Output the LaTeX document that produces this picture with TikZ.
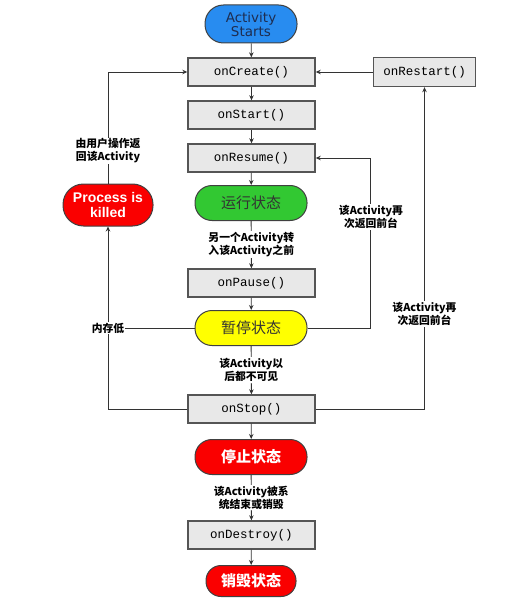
\documentclass[tikz,border=0pt]{standalone}
\usepackage{fontspec}
\newfontfamily\cjk{Noto Sans CJK SC}
\newfontfamily\monofam{Liberation Mono}
\newfontfamily\sansfam{DejaVu Sans}
\newfontfamily\boldsans{Liberation Sans}
\usetikzlibrary{arrows.meta}

\definecolor{startblue}{RGB}{40,140,240}
\definecolor{rungreen}{RGB}{50,200,50}
\definecolor{pauseyellow}{RGB}{255,255,0}
\definecolor{stopred}{RGB}{250,0,0}
\definecolor{boxgray}{RGB}{232,232,232}
\definecolor{boxedge}{RGB}{85,85,85}

\begin{document}
\begin{tikzpicture}[x=1pt,y=-1pt,
  method/.style={draw=boxedge,line width=1.4pt,fill=boxgray,minimum width=127pt,minimum height=28pt,inner sep=0pt,font=\monofam\fontsize{12.5}{14}\selectfont},
  state/.style={draw=black!75,line width=1pt,rounded corners=17pt,minimum width=112pt,minimum height=35pt,inner sep=0pt,text=black!80,font=\cjk\fontsize{15}{17}\selectfont},
  hot/.style={fill=stopred,text=white,font=\cjk\bfseries\fontsize{15}{17}\selectfont},
  note/.style={fill=white,inner sep=1pt,align=center,font=\cjk\bfseries\fontsize{10.8}{13}\selectfont},
  flow/.style={draw=black!80,line width=0.8pt,-{Stealth[length=5pt,width=4.5pt]}},
  plain/.style={draw=black!80,line width=0.8pt}]
\useasboundingbox (0,0) rectangle (528,604);

% Main column
\node[state,fill=startblue,minimum width=92pt,minimum height=38pt,rounded corners=18.5pt,
  align=center,text={rgb,255:red,30;green,45;blue,80},font=\sansfam\fontsize{13.5}{14}\selectfont] (begin) at (251,24) {Activity\\Starts};
\node[method] (create) at (251.5,72) {onCreate()};
\node[method] (startm) at (251.5,115) {onStart()};
\node[method] (resume) at (251.5,158) {onResume()};
\node[state,fill=rungreen] (running) at (251,203) {运行状态};
\node[method] (pausem) at (251.5,283) {onPause()};
\node[state,fill=pauseyellow] (paused) at (251,328) {暂停状态};
\node[method] (stopm) at (251.5,409) {onStop()};
\node[state,hot] (stopped) at (251,457) {停止状态};
\node[method] (destroym) at (251.5,535) {onDestroy()};
\node[state,hot,minimum width=90pt,minimum height=31pt,rounded corners=15pt] (destroyed) at (251,581) {销毁状态};

% Side nodes
\node[method,minimum width=102pt,minimum height=29pt] (restart) at (424.5,72) {onRestart()};
\node[state,hot,minimum width=90pt,minimum height=42pt,rounded corners=20.5pt,align=center,
  font=\boldsans\bfseries\fontsize{14}{15}\selectfont] (killed) at (108,205) {Process is\\killed};

% Down the middle
\draw[flow] (begin) -- (create);
\draw[flow] (create) -- (startm);
\draw[flow] (startm) -- (resume);
\draw[flow] (resume) -- (running);
\draw[flow] (running) -- node[note] {另一个Activity转\\入该Activity之前} (pausem);
\draw[flow] (pausem) -- (paused);
\draw[flow] (paused) -- node[note] {该Activity以\\后都不可见} (stopm);
\draw[flow] (stopm) -- (stopped);
\draw[flow] (stopped) -- node[note] {该Activity被系\\统结束或销毁} (destroym);
\draw[flow] (destroym) -- (destroyed);

% Left loop
\coordinate (lowmem) at (108,328);
\draw[flow] (stopm.west) -| (killed.south);
\draw[plain] (paused.west) -- (lowmem);
\node[note] at (lowmem) {内存低};
\draw[flow] (killed.north) |- (create.west);
\node[note] at (108,151) {由用户操作返\\回该Activity};

% Right loops
\coordinate (innerturn) at (370,328);
\draw[flow] (paused.east) -- (innerturn) |- (resume.east);
\node[note] at (371,217) {该Activity再\\次返回前台};
\coordinate (outerturn) at (424.5,409);
\draw[flow] (stopm.east) -- (outerturn) -- (restart.south);
\node[note] at (424.5,314) {该Activity再\\次返回前台};
\draw[flow] (restart) -- (create);
\end{tikzpicture}
\end{document}
